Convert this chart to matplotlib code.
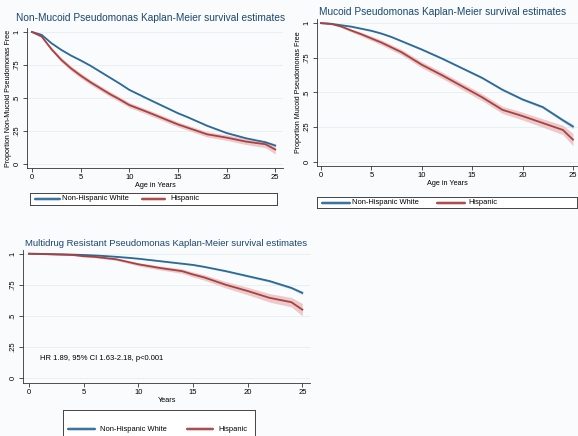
import matplotlib.pyplot as plt

plt.rcParams['font.family'] = ['Liberation Sans', 'DejaVu Sans']

# time grid (years) shared by all curves
t = [0, 1, 2, 3, 4, 5, 6, 7, 8, 9, 10, 12, 14, 15, 16, 18, 20, 22, 24, 25]

# non-mucoid
nm_white = [1, .978, .915, .865, .822, .785, .745, .70, .655, .61, .562, .49, .42, .385, .355, .29, .235, .195, .165, .14]
nm_hisp = [1, .965, .87, .79, .725, .67, .62, .575, .53, .49, .447, .39, .33, .30, .275, .225, .20, .17, .15, .11]
nm_white_ci = [0, .003, .005, .006, .006, .006, .006, .006, .006, .006, .006, .006, .006, .006, .006, .006, .006, .007, .008, .012]
nm_hisp_ci = [0, .008, .014, .017, .018, .019, .019, .019, .019, .019, .019, .019, .019, .019, .019, .02, .021, .023, .026, .035]

# mucoid
mu_white = [1, .995, .985, .975, .96, .945, .925, .90, .87, .84, .81, .745, .675, .64, .605, .52, .45, .395, .30, .255]
mu_hisp = [1, .995, .976, .947, .92, .89, .86, .825, .79, .745, .70, .625, .545, .505, .465, .375, .33, .28, .23, .16]
mu_white_ci = [0, .002, .003, .004, .005, .005, .006, .006, .006, .007, .007, .007, .007, .008, .008, .008, .009, .01, .012, .016]
mu_hisp_ci = [0, .004, .008, .011, .014, .016, .018, .019, .02, .021, .022, .023, .024, .025, .025, .026, .028, .03, .034, .045]

# multidrug resistant
md_white = [1, .999, .997, .995, .993, .99, .986, .981, .975, .968, .96, .94, .92, .91, .895, .86, .82, .78, .725, .685]
md_hisp = [1, .998, .995, .993, .99, .98, .975, .965, .955, .935, .915, .885, .86, .833, .81, .75, .70, .645, .61, .55]
md_white_ci = [0, .001, .001, .002, .002, .002, .003, .003, .003, .004, .004, .005, .005, .006, .006, .007, .008, .009, .01, .014]
md_hisp_ci = [0, .002, .003, .004, .005, .006, .007, .008, .01, .011, .013, .016, .018, .02, .022, .026, .03, .034, .038, .05]

groups = ['Non-Hispanic White', 'Hispanic']
yticks = [0, .25, .5, .75, 1]
yticklabels = ['0', '.25', '.5', '.75', '1']
xticks = [0, 5, 10, 15, 20, 25]

BLUE = '#2b6a99'
RED = '#a8413f'
BLUE_BAND = '#c9d6e3'
RED_BAND = '#ecc9cb'
TITLE = '#1a476f'
BG = '#fafbfd'

W, H = 578, 436
fig = plt.figure(figsize=(W / 100, H / 100), dpi=100, facecolor=BG)


def box(l, t_, r, b):
    return [l / W, 1 - b / H, (r - l) / W, (b - t_) / H]


def km_panel(rect, xlim, ylim, title, title_xy, title_size, white, hisp, white_ci, hisp_ci, ylabel, xlabel):
    ax = fig.add_axes(box(*rect))
    ax.set_facecolor(BG)
    for s, ci, band, col in ((white, white_ci, BLUE_BAND, BLUE), (hisp, hisp_ci, RED_BAND, RED)):
        lo = [v - c for v, c in zip(s, ci)]
        hi = [v + c for v, c in zip(s, ci)]
        ax.fill_between(t, lo, hi, color=band, lw=0, zorder=2)
        ax.plot(t, s, color=col, lw=1.3, zorder=3)
    ax.set_xlim(*xlim)
    ax.set_ylim(*ylim)
    ax.set_yticks(yticks)
    ax.set_yticklabels(yticklabels, rotation=90, va='center')
    ax.set_xticks(xticks)
    ax.tick_params(labelsize=5.5, length=3, width=0.6, pad=1.5, color='#333333')
    for sp in ('top', 'right'):
        ax.spines[sp].set_visible(False)
    for sp in ('left', 'bottom'):
        ax.spines[sp].set_linewidth(0.6)
        ax.spines[sp].set_color('#333333')
    ax.grid(axis='y', color='#e6eef0', lw=0.6, zorder=0)
    ax.set_axisbelow(True)
    if ylabel:
        ax.set_ylabel(ylabel, fontsize=5.1, labelpad=1)
    ax.set_xlabel(xlabel, fontsize=5.2, labelpad=0.5)
    fig.text(title_xy[0] / W, 1 - title_xy[1] / H, title, color=TITLE,
             fontsize=title_size, va='center', ha='left')
    return ax


def legend_box(l, t_, r, b):
    lx = fig.add_axes(box(l, t_, r, b))
    lx.set_xlim(l, r)
    lx.set_ylim(b, t_)
    lx.set_xticks([])
    lx.set_yticks([])
    for sp in lx.spines.values():
        sp.set_linewidth(0.7)
        sp.set_color('#444444')
    lx.set_facecolor('white')
    return lx


ax1 = km_panel((27, 28, 283, 168), (-0.51, 25.8), (-0.03, 1.03),
               'Non-Mucoid Pseudomonas Kaplan-Meier survival estimates', (16, 18), 7.3,
               nm_white, nm_hisp, nm_white_ci, nm_hisp_ci,
               'Proportion Non-Mucoid Pseudomonas Free', 'Age in Years')
ax2 = km_panel((317, 19, 578, 166), (-0.4, 25.5), (-0.03, 1.03),
               'Mucoid Pseudomonas Kaplan-Meier survival estimates', (319, 12), 7.3,
               mu_white, mu_hisp, mu_white_ci, mu_hisp_ci,
               'Proportion Mucoid Pseudomonas Free', 'Age in Years')
ax3 = km_panel((23, 250, 310, 383), (-0.55, 25.7), (-0.04, 1.03),
               'Multidrug Resistant Pseudomonas Kaplan-Meier survival estimates', (25, 243), 6.8,
               md_white, md_hisp, md_white_ci, md_hisp_ci,
               None, 'Years')
ax3.text(1.0, 0.16, 'HR 1.89, 95% CI 1.63-2.18, p<0.001', fontsize=5.5, va='center')

# legend boxes under each panel (the last one runs off the bottom edge)
for rect, yc, xs in (((30, 193, 277, 205), 199, (35, 60, 62, 142, 165, 170)),
                     ((317, 197, 577, 208), 202.5, (322, 350, 352, 437, 465, 468)),
                     ((63, 410, 255, 446), 429, (68, 95, 100, 187, 213, 218))):
    l, t_, r, b = rect
    lx = legend_box(l, t_, r, b)
    a0, a1, tx0, b0, b1, tx1 = xs
    lx.fill_between([a0, a1], yc - 2, yc + 2, color=BLUE_BAND, lw=0)
    lx.plot([a0, a1], [yc, yc], color=BLUE, lw=1.3)
    lx.text(tx0, yc, groups[0], fontsize=5.4, va='center')
    lx.fill_between([b0, b1], yc - 2, yc + 2, color=RED_BAND, lw=0)
    lx.plot([b0, b1], [yc, yc], color=RED, lw=1.3)
    lx.text(tx1, yc, groups[1], fontsize=5.4, va='center')

fig.savefig('out.png', dpi=100, facecolor=BG)
